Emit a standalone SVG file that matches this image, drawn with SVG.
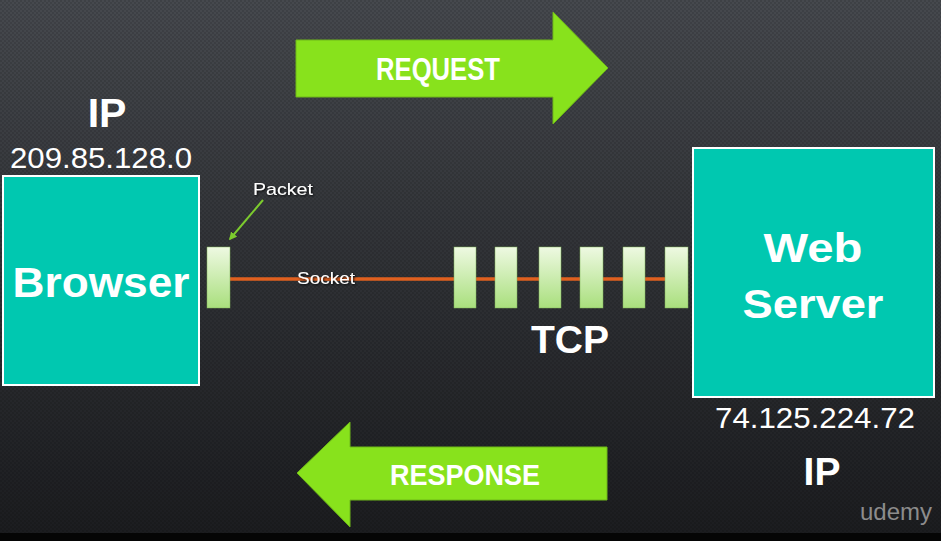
<svg xmlns="http://www.w3.org/2000/svg" width="941" height="541" viewBox="0 0 941 541">
<defs>
<linearGradient id="bg" x1="0" y1="0" x2="0" y2="1">
<stop offset="0" stop-color="#46494e"/>
<stop offset="0.5" stop-color="#2f3135"/>
<stop offset="1" stop-color="#1b1c1f"/>
</linearGradient>
<pattern id="dots" width="4" height="4" patternUnits="userSpaceOnUse">
<circle cx="1" cy="1" r="0.8" fill="#000" fill-opacity="0.25"/>
<circle cx="3" cy="3" r="0.8" fill="#000" fill-opacity="0.25"/>
</pattern>
<linearGradient id="pkt" x1="0" y1="0" x2="0" y2="1">
<stop offset="0" stop-color="#eef9e2"/>
<stop offset="1" stop-color="#a9df7d"/>
</linearGradient>
<marker id="gh" viewBox="0 0 10 10" refX="8" refY="5" markerWidth="4" markerHeight="4" orient="auto">
<path d="M0,0 L10,5 L0,10 z" fill="#7ccb2e"/>
</marker>
<filter id="sh" x="-10%" y="-10%" width="120%" height="130%">
<feDropShadow dx="1" dy="1" stdDeviation="0.8" flood-color="#000" flood-opacity="0.9"/>
</filter>
</defs>
<style>
.lbl{font-family:"Liberation Sans",Arial,sans-serif;fill:#ffffff}
.b{font-weight:bold}
.box{fill:#00c8b0;stroke:#ffffff;stroke-width:2}
.arrow{fill:#88e21c;stroke:#6fb818;stroke-width:1}
.pk{fill:url(#pkt);stroke:#7fb55a;stroke-width:0.5}
</style>
<rect x="0" y="0" width="941" height="541" fill="url(#bg)"/>
<rect x="0" y="0" width="941" height="533" fill="url(#dots)"/>
<rect x="0" y="533" width="941" height="8" fill="#050505"/>

<g id="connectors">
<line x1="230" y1="279" x2="666" y2="279" stroke="#e0601f" stroke-width="3.5"/>
<line x1="263" y1="200" x2="230" y2="239" stroke="#7ccb2e" stroke-width="2" marker-end="url(#gh)"/>
</g>

<g id="request">
<path class="arrow" d="M296,40 L553,40 L553,12 L608,68 L553,124 L553,97 L296,97 z"/>
<text class="lbl b" x="438" y="80" font-size="31" text-anchor="middle" textLength="124" lengthAdjust="spacingAndGlyphs">REQUEST</text>
</g>

<g id="response">
<path class="arrow" d="M607,447 L350,447 L350,422 L297,473 L350,527 L350,500 L607,500 z"/>
<text class="lbl b" x="465" y="485" font-size="30" text-anchor="middle" textLength="150" lengthAdjust="spacingAndGlyphs">RESPONSE</text>
</g>

<g id="browser">
<text class="lbl b" x="107" y="127" font-size="41" text-anchor="middle">IP</text>
<text class="lbl" x="101" y="168" font-size="29" text-anchor="middle" textLength="182" lengthAdjust="spacingAndGlyphs">209.85.128.0</text>
<rect class="box" x="3" y="176" width="196" height="209"/>
<text class="lbl b" x="101" y="297" font-size="43" text-anchor="middle" textLength="177" lengthAdjust="spacingAndGlyphs">Browser</text>
</g>

<g id="webserver">
<rect class="box" x="693" y="148" width="241" height="249"/>
<text class="lbl b" x="813" y="262" font-size="41" text-anchor="middle" textLength="99" lengthAdjust="spacingAndGlyphs">Web</text>
<text class="lbl b" x="813" y="318" font-size="41" text-anchor="middle" textLength="141" lengthAdjust="spacingAndGlyphs">Server</text>
<text class="lbl" x="815" y="428" font-size="29" text-anchor="middle" textLength="200" lengthAdjust="spacingAndGlyphs">74.125.224.72</text>
<text class="lbl b" x="822" y="485" font-size="39" text-anchor="middle">IP</text>
</g>

<g id="packets">
<rect class="pk" x="207" y="247" width="23" height="61"/>
<rect class="pk" x="454" y="247" width="22" height="61"/>
<rect class="pk" x="495" y="247" width="22" height="61"/>
<rect class="pk" x="539" y="247" width="22" height="61"/>
<rect class="pk" x="580" y="247" width="23" height="61"/>
<rect class="pk" x="623" y="247" width="22" height="61"/>
<rect class="pk" x="665" y="247" width="23" height="61"/>
</g>

<g id="labels">
<text class="lbl" x="283" y="195" font-size="17" text-anchor="middle" textLength="60" lengthAdjust="spacingAndGlyphs" filter="url(#sh)">Packet</text>
<text class="lbl" x="326" y="284" font-size="17" text-anchor="middle" textLength="58" lengthAdjust="spacingAndGlyphs" filter="url(#sh)">Socket</text>
<text class="lbl b" x="570" y="353" font-size="39" text-anchor="middle">TCP</text>
<text x="896" y="520" font-size="24" text-anchor="middle" fill="#8c8c8c" font-family="'Liberation Sans',Arial,sans-serif">udemy</text>
</g>
</svg>
